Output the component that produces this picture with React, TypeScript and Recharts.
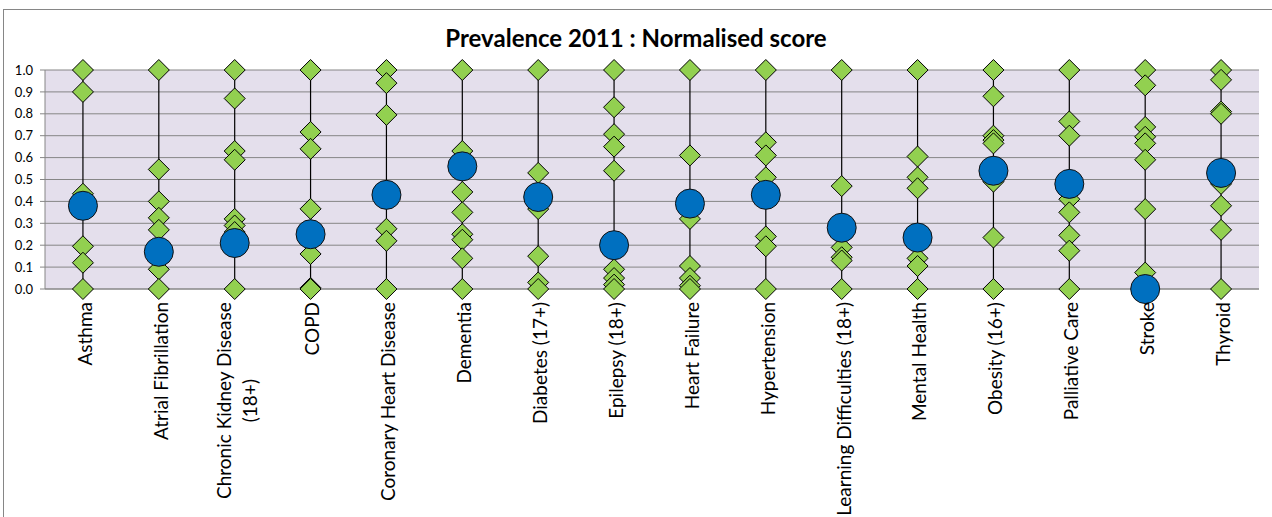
import React from 'react'
import { ScatterChart, Scatter, XAxis, YAxis, CartesianGrid, ErrorBar } from 'recharts'

// Prevalence 2011 - normalised score per condition
const categories = [
  'Asthma',
  'Atrial Fibrillation',
  'Chronic Kidney Disease\n(18+)',
  'COPD',
  'Coronary Heart Disease',
  'Dementia',
  'Diabetes (17+)',
  'Epilepsy (18+)',
  'Heart Failure',
  'Hypertension',
  'Learning Difficulties (18+)',
  'Mental Health',
  'Obesity (16+)',
  'Palliative Care',
  'Stroke',
  'Thyroid',
]

// the highlighted practice (blue circles)
const practiceScores = [0.38, 0.17, 0.21, 0.25, 0.43, 0.56, 0.42, 0.2, 0.39, 0.43, 0.28, 0.235, 0.54, 0.48, 0.0, 0.53]

// the other practices (green diamonds)
const peerScores = [
  [1.0, 0.9, 0.435, 0.195, 0.12, 0.0],
  [1.0, 0.546, 0.4, 0.325, 0.27, 0.09, 0.0],
  [1.0, 0.87, 0.63, 0.59, 0.32, 0.29, 0.26, 0.0],
  [1.0, 0.717, 0.64, 0.366, 0.16, 0.005, 0.0],
  [1.0, 0.94, 0.795, 0.275, 0.22, 0.0],
  [1.0, 0.63, 0.443, 0.35, 0.25, 0.225, 0.14, 0.0],
  [1.0, 0.53, 0.365, 0.15, 0.03, 0.0],
  [1.0, 0.83, 0.707, 0.65, 0.54, 0.09, 0.05, 0.02, 0.0],
  [1.0, 0.61, 0.32, 0.105, 0.05, 0.015, 0.0],
  [1.0, 0.67, 0.61, 0.51, 0.24, 0.195, 0.0],
  [1.0, 0.47, 0.19, 0.145, 0.13, 0.0],
  [1.0, 0.605, 0.51, 0.46, 0.14, 0.105, 0.0],
  [1.0, 0.88, 0.7, 0.68, 0.665, 0.49, 0.235, 0.0],
  [1.0, 0.765, 0.7, 0.41, 0.35, 0.245, 0.175, 0.0],
  [1.0, 0.93, 0.74, 0.695, 0.665, 0.59, 0.365, 0.075],
  [1.0, 0.955, 0.81, 0.8, 0.48, 0.38, 0.27, 0.0],
]

const yTicks = [0, 0.1, 0.2, 0.3, 0.4, 0.5, 0.6, 0.7, 0.8, 0.9, 1.0]

const FONT = 'Lato, "Open Sans", sans-serif'
const LABEL_SIZE = 19
const GREY = '#868686'

const catTicks = categories.map((_, i) => i)
const boundaryTicks = [...catTicks.map(i => i - 0.5), categories.length - 0.5]

const peerData = peerScores.flatMap((vals, i) => vals.map(v => ({ x: i, y: v })))
const practiceData = practiceScores.map((v, i) => ({ x: i, y: v }))
const rangeData = peerScores.map((vals, i) => {
  const all = [...vals, practiceScores[i]]
  const lo = Math.min(...all)
  const hi = Math.max(...all)
  return { x: i, y: lo, err: [0, hi - lo] }
})

let ctx: CanvasRenderingContext2D | null = null
function textWidth(s: string) {
  if (!ctx) ctx = document.createElement('canvas').getContext('2d')
  if (!ctx) return s.length * LABEL_SIZE * 0.5
  ctx.font = `${LABEL_SIZE}px Lato`
  return ctx.measureText(s).width
}

const CategoryTick = (props: any) => {
  const { x, y, payload } = props
  const lines = (categories[payload.value] ?? '').split('\n')
  const w = Math.max(...lines.map(textWidth))
  const lh = 26
  return (
    <g transform={`translate(${x + 2},${y})`}>
      {lines.map((line, i) => (
        <text
          key={i}
          transform="rotate(-90)"
          x={-w / 2}
          y={(i - (lines.length - 1) / 2) * lh}
          dy="0.36em"
          textAnchor="middle"
          fontFamily={FONT}
          fontSize={LABEL_SIZE}
          fill="#000"
        >
          {line}
        </text>
      ))}
    </g>
  )
}

const Diamond = (props: any) => {
  const { cx, cy } = props
  const h = 10.5
  return (
    <polygon
      points={`${cx},${cy - h} ${cx + h},${cy} ${cx},${cy + h} ${cx - h},${cy}`}
      fill="#92D050"
      stroke="#000"
      strokeWidth={1}
    />
  )
}

const Dot = (props: any) => {
  const { cx, cy } = props
  return <circle cx={cx} cy={cy} r={14.5} fill="#0070C0" stroke="#111" strokeWidth={1} />
}

export default function App() {
  return (
    <div style={{ position: 'absolute', left: 0, top: 0, width: 1272, height: 517, overflow: 'hidden', background: '#fff' }}>
      <div
        style={{
          position: 'absolute',
          left: 3,
          top: 9,
          width: 1290,
          height: 530,
          border: `1px solid ${GREY}`,
        }}
      />
      <div
        style={{
          position: 'absolute',
          left: 0,
          width: 1272,
          top: 24,
          textAlign: 'center',
          fontFamily: FONT,
          fontWeight: 700,
          fontSize: 24,
          lineHeight: '28px',
          color: '#000',
        }}
      >
        Prevalence 2011 : Normalised score
      </div>
      <div style={{ position: 'absolute', left: 0, top: 0 }}>
        <ScatterChart width={1272} height={517} margin={{ top: 70, right: 13, bottom: 0, left: 0 }}>
          <CartesianGrid xAxisId="a" vertical={false} stroke={GREY} fill="#E4DFEC" />
          <XAxis
            xAxisId="a"
            type="number"
            dataKey="x"
            domain={[-0.5, categories.length - 0.5]}
            ticks={boundaryTicks}
            tick={false}
            tickSize={5}
            height={5}
            stroke={GREY}
            axisLine={{ stroke: GREY }}
            tickLine={{ stroke: GREY }}
          />
          <XAxis
            xAxisId="b"
            type="number"
            dataKey="x"
            domain={[-0.5, categories.length - 0.5]}
            ticks={catTicks}
            interval={0}
            tick={<CategoryTick />}
            tickLine={false}
            axisLine={false}
            tickSize={0}
            tickMargin={8}
            height={223}
          />
          <YAxis
            type="number"
            dataKey="y"
            domain={[0, 1]}
            ticks={yTicks}
            interval={0}
            width={45}
            tickSize={5}
            tickMargin={7}
            tickFormatter={(v: number) => v.toFixed(1)}
            tick={{ fontFamily: FONT, fontSize: 13, fill: '#000' }}
            axisLine={{ stroke: GREY }}
            tickLine={{ stroke: GREY }}
          />
          <Scatter xAxisId="a" data={rangeData} isAnimationActive={false} shape={() => <g />}>
            <ErrorBar dataKey="err" direction="y" width={0} stroke="#000" strokeWidth={1.2} isAnimationActive={false} />
          </Scatter>
          <Scatter xAxisId="b" data={peerData} isAnimationActive={false} shape={<Diamond />} />
          <Scatter xAxisId="b" data={practiceData} isAnimationActive={false} shape={<Dot />} />
        </ScatterChart>
      </div>
    </div>
  )
}
